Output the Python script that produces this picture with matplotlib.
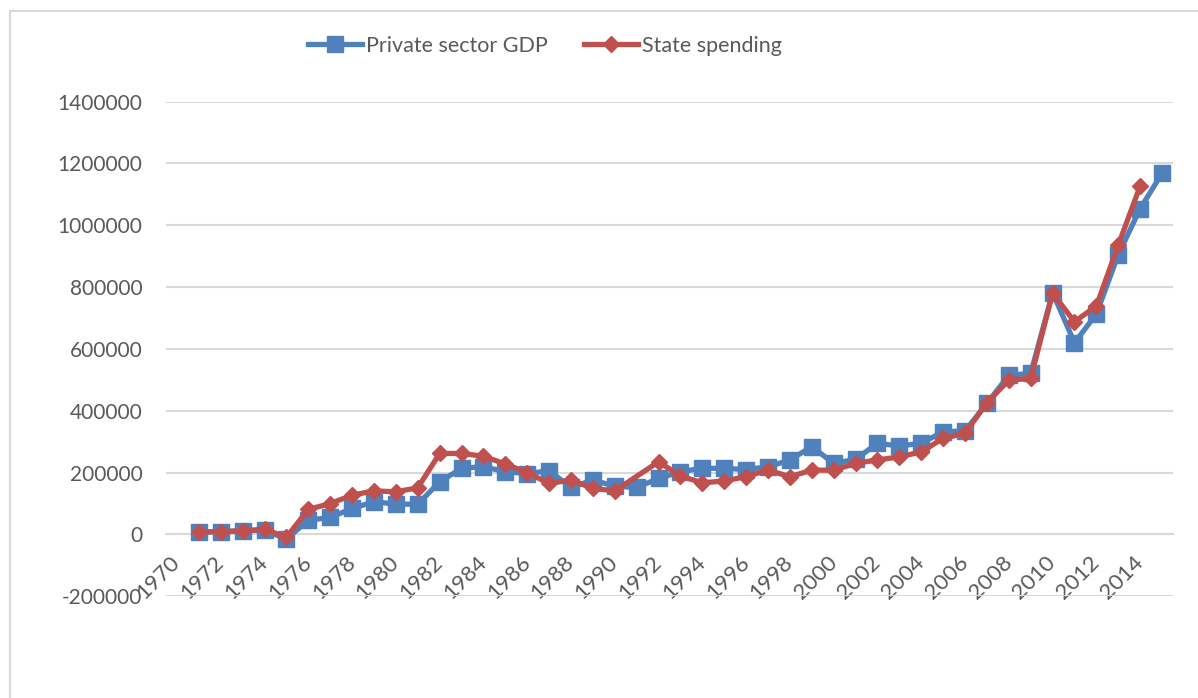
import matplotlib.pyplot as plt
import matplotlib.patches as mpatches
import numpy as np

plt.rcParams['font.family'] = ['Lato', 'DejaVu Sans']

years = np.arange(1970, 2016)

# private sector GDP, 1970 has no value
private_gdp = np.array([
    np.nan, 7000, 9000, 12000, 14000, -15000, 46000, 55000, 84000, 106000,
    98000, 98000, 170000, 214000, 219000, 203000, 197000, 206000, 152000, 176000,
    156000, 152000, 181000, 203000, 214000, 214000, 210000, 219000, 241000, 284000,
    230000, 243000, 295000, 286000, 295000, 332000, 335000, 424000, 515000, 521000,
    782000, 620000, 713000, 905000, 1054000, 1168000])

# state spending, no value for 1970, 1991 and 2015
state_spending = np.array([
    np.nan, 8000, 9000, 12000, 17000, -9000, 81000, 100000, 127000, 141000,
    138000, 151000, 262000, 262000, 253000, 228000, 200000, 165000, 176000, 149000,
    141000, np.nan, 235000, 189000, 167000, 173000, 187000, 208000, 187000, 208000,
    208000, 230000, 241000, 251000, 267000, 311000, 327000, 426000, 499000, 505000,
    780000, 688000, 739000, 936000, 1127000, np.nan])

blue = '#4F81BD'
red = '#C0504D'
grey_txt = '#595959'
grid_c = '#D9D9D9'

fig = plt.figure(figsize=(11.98, 6.98), dpi=100)
ax = fig.add_axes([166/1198, 1 - 596.3/698, (1173 - 166)/1198, (596.3 - 101.6)/698])

m = ~np.isnan(private_gdp)
ax.plot(years[m], private_gdp[m], color=blue, lw=3.8, marker='s', ms=11,
        label='Private sector GDP', zorder=3)
m = ~np.isnan(state_spending)
ax.plot(years[m], state_spending[m], color=red, lw=3.8, marker='D', ms=8.5,
        label='State spending', zorder=4)

ax.set_xlim(1969.5, 2015.5)
ax.set_ylim(-200000, 1400000)
ax.set_yticks(np.arange(-200000, 1400001, 200000))
ax.set_xticks(np.arange(1970, 2015, 2))
ax.yaxis.set_major_formatter(plt.FuncFormatter(lambda v, p: f'{int(v)}'))

ax.grid(axis='y', color=grid_c, lw=1.5)
ax.set_axisbelow(True)
for s in ['left', 'right', 'top']:
    ax.spines[s].set_visible(False)
# category labels hang off the zero line
ax.spines['bottom'].set_position(('data', 0))
ax.spines['bottom'].set_color(grid_c)
ax.spines['bottom'].set_linewidth(1.5)

ax.tick_params(axis='both', length=0, labelcolor=grey_txt)
ax.tick_params(axis='y', pad=17, labelsize=15)
ax.tick_params(axis='x', pad=18, labelsize=16)
for lbl in ax.get_xticklabels():
    lbl.set_rotation(45)
    lbl.set_ha('right')
    lbl.set_va('center')
    lbl.set_rotation_mode('anchor')

leg = fig.legend(loc='center', bbox_to_anchor=(545/1198, 1 - 46/698), ncol=2,
                 frameon=False, fontsize=15.5, handlelength=2.5, handletextpad=0.2,
                 columnspacing=1.7)
for t in leg.get_texts():
    t.set_color(grey_txt)

# light chart-area border
fig.patches.append(mpatches.Rectangle((10/1198, -0.1), 2, 1 - 11/698 + 0.1,
                                      transform=fig.transFigure, fill=False,
                                      edgecolor=grid_c, lw=1.5))

fig.savefig('out.png', dpi=100)
